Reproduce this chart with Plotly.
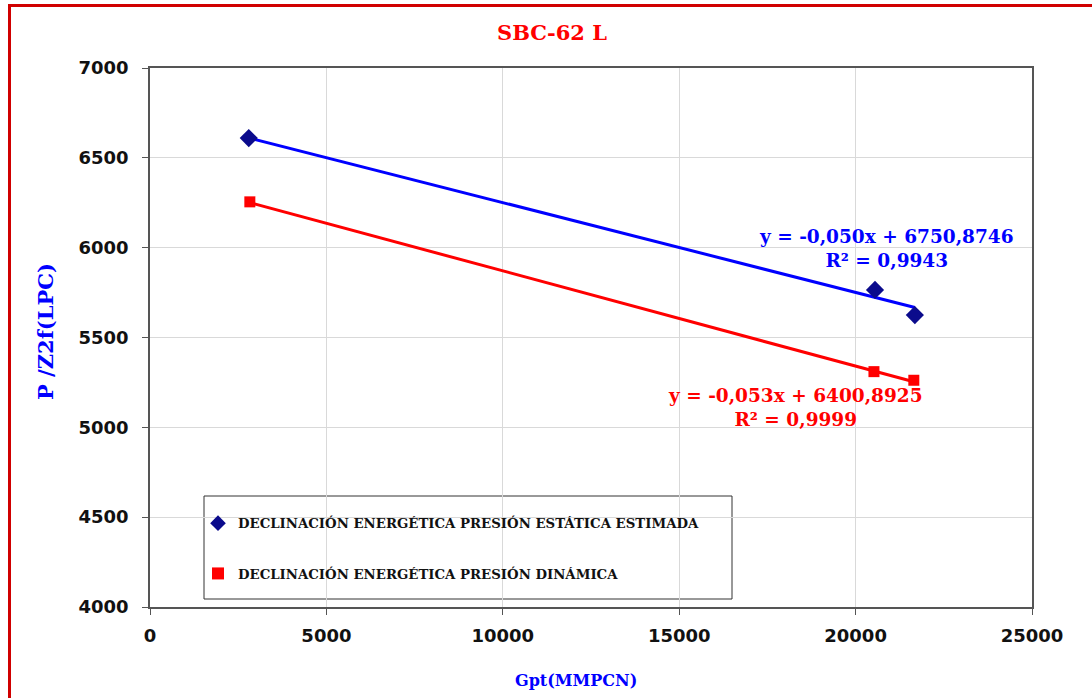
import plotly.graph_objects as go

# Cumulative gas produced (MMPCN) and P/Z2f (LPC) for well SBC-62 L
gpt_static = [2800, 20550, 21680]
pz_static = [6610, 5765, 5625]

gpt_dynamic = [2830, 20520, 21650]
pz_dynamic = [6255, 5310, 5262]

series_names = [
    "DECLINACIÓN ENERGÉTICA PRESIÓN ESTÁTICA ESTIMADA",
    "DECLINACIÓN ENERGÉTICA PRESIÓN DINÁMICA",
]

# Linear trend coefficients (slope, intercept, R²)
trend_slope = [-0.050, -0.053]
trend_intercept = [6750.8746, 6400.8925]
trend_r2 = [0.9943, 0.9999]

x_ticks = [0, 5000, 10000, 15000, 20000, 25000]
y_ticks = [4000, 4500, 5000, 5500, 6000, 6500, 7000]

W, H = 1092, 698
L, R, T, B = 150, 60, 68, 91
PW, PH = W - L - R, H - T - B


def px_x(px):
    return (px - L) / PW


def px_y(py):
    return (H - B - py) / PH


def fmt(v, nd):
    return f"{v:.{nd}f}".replace(".", ",")


BLUE = "#0000ff"
NAVY = "#0b0b8c"
RED = "#ff0000"
SERIF = "DejaVu Serif"

fig = go.Figure()

groups = [
    (gpt_static, pz_static, NAVY, BLUE, "diamond", 14),
    (gpt_dynamic, pz_dynamic, RED, RED, "square", 11),
]

for i, (xs, ys, mcol, lcol, sym, size) in enumerate(groups):
    x0, x1 = min(xs), max(xs)
    fig.add_trace(go.Scatter(
        x=[x0, x1],
        y=[trend_slope[i] * x0 + trend_intercept[i],
           trend_slope[i] * x1 + trend_intercept[i]],
        mode="lines", line=dict(color=lcol, width=3),
        showlegend=False, hoverinfo="skip",
    ))
    fig.add_trace(go.Scatter(
        x=xs, y=ys, mode="markers", name=series_names[i],
        legendgroup=f"g{i}",
        marker=dict(symbol=sym, size=size, color=mcol),
    ))

# Trend-line equations
eq_pos = [(886, 249, BLUE), (795, 407, RED)]
for i, (cx, cy, col) in enumerate(eq_pos):
    fig.add_annotation(
        x=px_x(cx), y=px_y(cy), xref="paper", yref="paper",
        text=(f"<b>y = {fmt(trend_slope[i], 3)}x + {fmt(trend_intercept[i], 4)}"
              f"<br>R² = {fmt(trend_r2[i], 4)}</b>"),
        showarrow=False, align="center", xanchor="center", yanchor="middle",
        font=dict(family=SERIF, size=18.5, color=col),
    )

# Axis titles
fig.add_annotation(
    x=px_x(45), y=px_y(332), xref="paper", yref="paper",
    text="<b>P /Z2f(LPC)</b>", textangle=-90, showarrow=False,
    xanchor="center", yanchor="middle",
    font=dict(family=SERIF, size=21, color=BLUE),
)
fig.add_annotation(
    x=px_x(576), y=px_y(680), xref="paper", yref="paper",
    text="<b>Gpt(MMPCN)</b>", showarrow=False,
    xanchor="center", yanchor="middle",
    font=dict(family=SERIF, size=16, color=BLUE),
)

# Legend frame
fig.add_shape(
    type="rect", xref="paper", yref="paper",
    x0=px_x(204), x1=px_x(732), y0=px_y(599), y1=px_y(496),
    line=dict(color="#333333", width=1), fillcolor="white", layer="below",
)

# Outer red frame (top and left edges)
fig.add_shape(
    type="path", xref="paper", yref="paper",
    path=(f"M {px_x(9.5)} {px_y(H + 5)} L {px_x(9.5)} {px_y(5.5)} "
          f"L {px_x(W + 5)} {px_y(5.5)}"),
    line=dict(color="#d00000", width=3),
)

axis_common = dict(
    showline=True, linecolor="#555555", linewidth=1.5, mirror=True,
    showgrid=True, gridcolor="#d9d9d9", gridwidth=1,
    zeroline=False, ticks="outside", ticklen=6, tickcolor="#555555",
    tickfont=dict(family="DejaVu Sans", size=18, color="#111111", weight="bold"),
)

fig.update_layout(
    width=W, height=H,
    margin=dict(l=L, r=R, t=T, b=B),
    paper_bgcolor="white", plot_bgcolor="white",
    title=dict(
        text="<b>SBC-62 L</b>", x=552 / W, xanchor="center",
        y=1 - 33 / H, yanchor="middle",
        font=dict(family=SERIF, size=21, color=RED),
    ),
    xaxis=dict(range=[0, 25000], tickvals=x_ticks,
               ticktext=[str(v) for v in x_ticks], ticklabelstandoff=6,
               **axis_common),
    yaxis=dict(range=[4000, 7000], tickvals=y_ticks,
               ticktext=[str(v) for v in y_ticks], ticklabelstandoff=10,
               **axis_common),
    legend=dict(
        x=px_x(198), y=px_y(508), xanchor="left", yanchor="top",
        bgcolor="rgba(0,0,0,0)", borderwidth=0,
        traceorder="grouped", tracegroupgap=30,
        font=dict(family=SERIF, size=13.3, color="#111111", weight="bold"),
        itemsizing="constant",
    ),
    showlegend=True,
)

fig.write_html("out.html")
